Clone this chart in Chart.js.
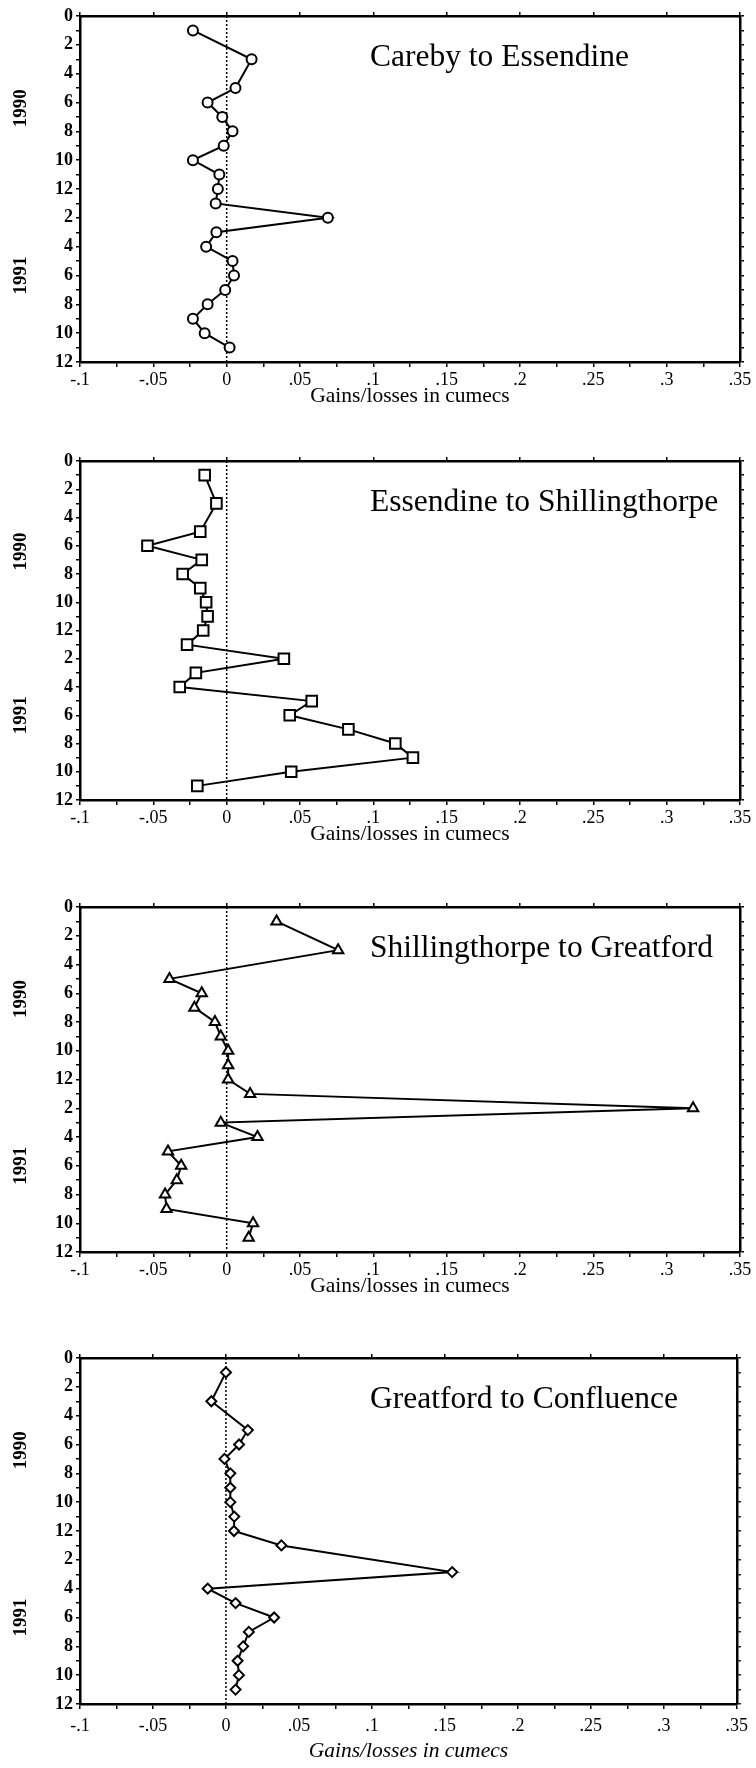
<!DOCTYPE html>
<html>
<head>
<meta charset="utf-8">
<script src="https://cdn.jsdelivr.net/npm/chart.js@4.4.0/dist/chart.umd.min.js"></script>
<style>
  html, body { margin: 0; padding: 0; background: #fff; }
  #page { position: relative; width: 756px; height: 1768px; overflow: hidden; background: #fff; }
  #page canvas { position: absolute; left: 0; }
</style>
</head>
<body>
<div id="page"></div>
<script>
// ---- data ----
const xTickValues = [-0.1, -0.05, 0, 0.05, 0.1, 0.15, 0.2, 0.25, 0.3, 0.35];
const xTickLabels = ['-.1', '-.05', '0', '.05', '.1', '.15', '.2', '.25', '.3', '.35'];
const yTickLabels = ['0', '2', '4', '6', '8', '10', '12', '2', '4', '6', '8', '10', '12'];
const yearLabels = ['1990', '1991'];
const yearCentres = [6.4, 18];
const xAxisTitle = 'Gains/losses in cumecs';
const reachNames = ['Careby to Essendine', 'Essendine to Shillingthorpe',
                    'Shillingthorpe to Greatford', 'Greatford to Confluence'];

// months since Jan 1990
const sampleMonths = [1, 3, 5, 6, 7, 8, 9, 10, 11, 12, 13, 14, 15, 16, 17, 18, 19, 20, 21, 22, 23];
const confluenceMonths = [1, 3, 5, 6, 7, 8, 9, 10, 11, 12, 13, 14.85, 16, 17, 18, 19, 20, 21, 22, 23];

const carebyEssendine = [-0.023, 0.017, 0.006, -0.013, -0.003, 0.004, -0.002, -0.023, -0.005, -0.006,
                         -0.0075, 0.069, -0.007, -0.014, 0.004, 0.005, -0.001, -0.013, -0.023, -0.015, 0.002];
const essendineShillingthorpe = [-0.015, -0.007, -0.018, -0.054, -0.017, -0.030, -0.018, -0.014, -0.013, -0.016,
                                 -0.027, 0.039, -0.021, -0.032, 0.058, 0.043, 0.083, 0.115, 0.127, 0.044, -0.020];
const shillingthorpeGreatford = [0.034, 0.076, -0.039, -0.017, -0.022, -0.008, -0.004, 0.001, 0.001, 0.001,
                                 0.016, 0.318, -0.004, 0.021, -0.040, -0.031, -0.034, -0.042, -0.041, 0.018, 0.015];
const greatfordConfluence = [0.0, -0.010, 0.015, 0.009, -0.001, 0.003, 0.003, 0.003, 0.0057, 0.0055,
                             0.038, 0.155, -0.0125, 0.0066, 0.033, 0.0157, 0.0118, 0.008, 0.0089, 0.0066];

// ---- layout / style ----
const panels = [
    { name: reachNames[0], months: sampleMonths, values: carebyEssendine, marker: 'circle', radius: 5,
      top: 16, plotH: 346, xH: 45, labelPad: 4, italic: false },
    { name: reachNames[1], months: sampleMonths, values: essendineShillingthorpe, marker: 'rect', radius: 7.5,
      top: 461, plotH: 339, xH: 45, labelPad: 4, italic: false },
    { name: reachNames[2], months: sampleMonths, values: shillingthorpeGreatford, marker: 'triangle', radius: 6,
      top: 907, plotH: 345, xH: 45, labelPad: 4, italic: false },
    { name: reachNames[3], months: confluenceMonths, values: greatfordConfluence, marker: 'rectRot', radius: 5,
      top: 1358, plotH: 346, xH: 58, labelPad: 8, italic: true }
];

Chart.defaults.font.family = '"Liberation Serif", "Times New Roman", serif';
Chart.defaults.color = '#000';

const panelText = {
    id: 'panelText',
    afterDraw(chart, args, opts) {
        const { ctx, chartArea, scales } = chart;
        ctx.save();
        ctx.fillStyle = '#000';
        ctx.font = '31.5px "Liberation Serif"';
        ctx.textBaseline = 'middle';
        ctx.textAlign = 'left';
        ctx.fillText(opts.name, chartArea.left + 290, chartArea.top + 42);
        ctx.font = 'bold 19px "Liberation Serif"';
        ctx.textAlign = 'center';
        yearLabels.forEach((t, k) => {
            ctx.save();
            ctx.translate(21, scales.y.getPixelForValue(yearCentres[k]));
            ctx.rotate(-Math.PI / 2);
            ctx.fillText(t, 0, 0);
            ctx.restore();
        });
        ctx.restore();
    }
};

function xLabel(v) {
    const k = xTickValues.findIndex(t => Math.abs(t - v) < 1e-6);
    return k < 0 ? '' : xTickLabels[k];
}

function makePanel(p) {
    const canvas = document.createElement('canvas');
    canvas.width = 756;
    canvas.height = 16 + p.plotH + p.xH;
    canvas.style.top = (p.top - 16) + 'px';
    document.getElementById('page').appendChild(canvas);

    const grid = { drawOnChartArea: false, color: '#000', lineWidth: 1.5, tickLength: 5 };
    const border = { display: true, color: '#000', width: 2.5 };

    new Chart(canvas, {
        type: 'scatter',
        data: {
            datasets: [{
                data: p.months.map((m, k) => ({ x: p.values[k], y: m })),
                showLine: true,
                borderColor: '#000',
                borderWidth: 2,
                pointStyle: p.marker,
                pointRadius: p.radius,
                pointBorderWidth: 2,
                pointBorderColor: '#000',
                pointBackgroundColor: '#fff'
            }, {
                // dotted zero line
                data: [{ x: 0, y: 0 }, { x: 0, y: 24 }],
                showLine: true,
                borderColor: '#000',
                borderWidth: 1.5,
                borderDash: [2, 2],
                pointRadius: 0
            }]
        },
        options: {
            responsive: false,
            animation: false,
            devicePixelRatio: 1,
            layout: { padding: 0 },
            plugins: {
                legend: { display: false },
                tooltip: { enabled: false },
                panelText: { name: p.name }
            },
            scales: {
                x: {
                    type: 'linear', position: 'bottom', min: -0.1, max: 0.35,
                    grid: grid, border: border,
                    ticks: {
                        stepSize: 0.025, autoSkip: false, maxRotation: 0,
                        padding: p.labelPad,
                        font: { size: 18, lineHeight: 1 },
                        callback: xLabel
                    },
                    title: {
                        display: true, text: xAxisTitle,
                        font: { size: 21.5, lineHeight: 1, style: p.italic ? 'italic' : 'normal' },
                        padding: { top: 0, bottom: 0 }
                    },
                    afterFit: s => { s.height = p.xH; }
                },
                x2: {
                    type: 'linear', position: 'top', min: -0.1, max: 0.35,
                    grid: Object.assign({}, grid, { tickLength: 4 }), border: border,
                    ticks: { display: false, stepSize: 0.05 },
                    afterFit: s => { s.height = 16; }
                },
                y: {
                    type: 'linear', position: 'left', min: 0, max: 24, reverse: true,
                    grid: Object.assign({}, grid, { tickLength: 4 }), border: border,
                    ticks: {
                        stepSize: 1, autoSkip: false, padding: 3,
                        font: { size: 18, weight: 'bold', lineHeight: 1 },
                        callback: v => (v % 2 === 0 ? yTickLabels[v / 2] : '')
                    },
                    afterFit: s => { s.width = 80; }
                },
                y2: {
                    type: 'linear', position: 'right', min: 0, max: 24, reverse: true,
                    grid: Object.assign({}, grid, { tickLength: 4 }), border: border,
                    ticks: { display: false, stepSize: 1 },
                    afterFit: s => { s.width = 16; }
                }
            }
        },
        plugins: [panelText]
    });
}

panels.forEach(makePanel);
</script>
</body>
</html>
